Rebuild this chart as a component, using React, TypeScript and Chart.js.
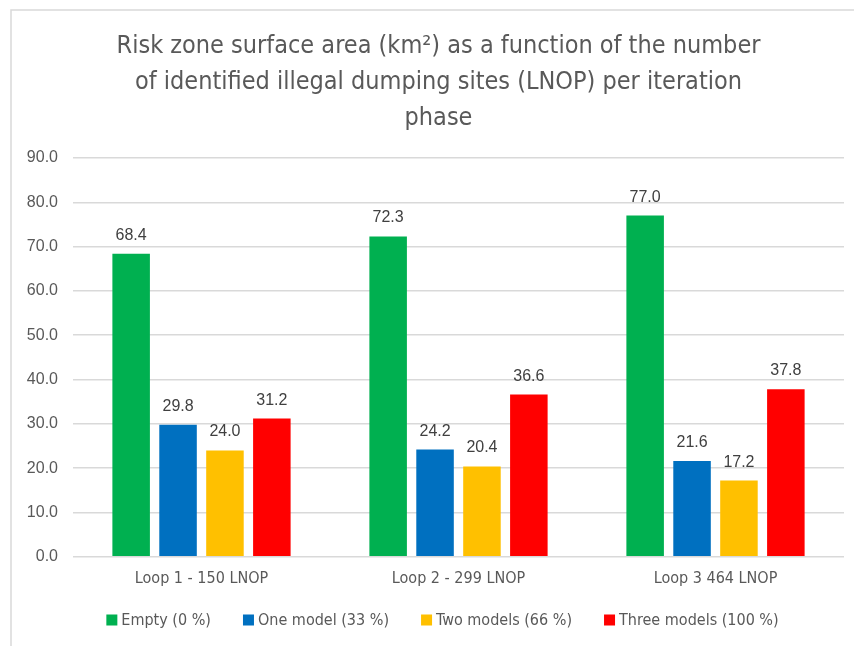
import React, { useEffect, useRef } from "react";
import { Chart, registerables } from "chart.js";

Chart.register(...registerables);

const categories = ["Loop 1 - 150 LNOP", "Loop 2 - 299 LNOP", "Loop 3 464 LNOP"];
const seriesNames = ["Empty (0 %)", "One model (33 %)", "Two models (66 %)", "Three models (100 %)"];
const emptyValues = [68.4, 72.3, 77.0];
const oneModelValues = [29.8, 24.2, 21.6];
const twoModelsValues = [24.0, 20.4, 17.2];
const threeModelsValues = [31.2, 36.6, 37.8];
const seriesColors = ["#00B050", "#0070C0", "#FFC000", "#FF0000"];
const titleLines = [
  "Risk zone surface area (km²) as a function of the number",
  "of identified illegal dumping sites (LNOP) per iteration",
  "phase",
];
const yMin = 0;
const yMax = 90;
const yStep = 10;

const NARROW = "'Liberation Sans Narrow', 'DejaVu Sans Condensed', 'Noto Sans', sans-serif";
const ARIAL = "'Liberation Sans', Arial, sans-serif";

const framePlugin = {
  id: "frame",
  beforeDraw(chart: any) {
    const ctx = chart.ctx;
    ctx.save();
    ctx.fillStyle = "#ffffff";
    ctx.fillRect(0, 0, chart.width, chart.height);
    ctx.strokeStyle = "#d9d9d9";
    ctx.lineWidth = 1.5;
    ctx.strokeRect(11, 10, chart.width + 50, chart.height + 50);
    ctx.restore();
  },
};

const titlePlugin = {
  id: "customTitle",
  afterDraw(chart: any) {
    const ctx = chart.ctx;
    ctx.save();
    ctx.font = `25px ${NARROW}`;
    ctx.fillStyle = "#595959";
    ctx.textAlign = "center";
    ctx.textBaseline = "middle";
    const cx = (chart.chartArea.left + chart.chartArea.right) / 2 - 20;
    titleLines.forEach((line, i) => {
      ctx.fillText(line, cx, 46 + i * 36);
    });
    ctx.restore();
  },
};

const valueLabelPlugin = {
  id: "valueLabels",
  afterDatasetsDraw(chart: any) {
    const ctx = chart.ctx;
    ctx.save();
    ctx.font = `16px ${ARIAL}`;
    ctx.fillStyle = "#404040";
    ctx.textAlign = "center";
    ctx.textBaseline = "alphabetic";
    chart.data.datasets.forEach((ds: any, i: number) => {
      const meta = chart.getDatasetMeta(i);
      meta.data.forEach((bar: any, j: number) => {
        ctx.fillText(Number(ds.data[j]).toFixed(1), bar.x, bar.y - 14);
      });
    });
    ctx.restore();
  },
};

const customLegendPlugin = {
  id: "customLegend",
  afterDraw(chart: any) {
    const ctx = chart.ctx;
    const box = 11;
    const textGap = 4;
    const itemGap = 32;
    ctx.save();
    ctx.font = `16px ${NARROW}`;
    ctx.textBaseline = "middle";
    ctx.textAlign = "left";
    const items = chart.data.datasets.map((ds: any) => ({
      text: ds.label,
      color: ds.backgroundColor,
      w: box + textGap + ctx.measureText(ds.label).width,
    }));
    const total = items.reduce((s: number, it: any) => s + it.w, 0) + itemGap * (items.length - 1);
    const centerX = (chart.chartArea.left + chart.chartArea.right) / 2 - 16;
    const cy = chart.height - 26;
    let x = centerX - total / 2;
    items.forEach((it: any) => {
      ctx.fillStyle = it.color;
      ctx.fillRect(x, cy - box / 2, box, box);
      ctx.fillStyle = "#595959";
      ctx.fillText(it.text, x + box + textGap, cy + 1);
      x += it.w + itemGap;
    });
    ctx.restore();
  },
};

export default function App() {
  const canvasRef = useRef<HTMLCanvasElement | null>(null);

  useEffect(() => {
    if (!canvasRef.current) return;
    const allValues = [emptyValues, oneModelValues, twoModelsValues, threeModelsValues];
    const chart = new Chart(canvasRef.current, {
      type: "bar",
      data: {
        labels: categories,
        datasets: seriesNames.map((name, i) => ({
          label: name,
          data: allValues[i],
          backgroundColor: seriesColors[i],
          borderWidth: 0,
          barPercentage: 0.8,
          categoryPercentage: 0.73,
        })),
      },
      options: {
        responsive: false,
        animation: false,
        layout: { padding: { left: 0, right: 10, top: 158, bottom: 46 } },
        plugins: {
          title: { display: false },
          legend: { display: false },
          tooltip: { enabled: false },
        },
        scales: {
          x: {
            grid: { display: false, drawTicks: false },
            border: { display: false },
            ticks: { color: "#595959", font: { family: NARROW, size: 16 }, padding: 12 },
          },
          y: {
            min: yMin,
            max: yMax,
            afterFit(scale: any) {
              scale.width = 73;
            },
            ticks: {
              stepSize: yStep,
              color: "#595959",
              font: { family: ARIAL, size: 16 },
              padding: 15,
              callback: (v: any) => Number(v).toFixed(1),
            },
            grid: { color: "#d9d9d9", lineWidth: 1.5, drawTicks: false },
            border: { display: false },
          },
        },
      },
      plugins: [framePlugin, titlePlugin, valueLabelPlugin, customLegendPlugin],
    } as any);
    return () => chart.destroy();
  }, []);

  return (
    <div style={{ position: "absolute", left: 0, top: 0, width: 854, height: 646 }}>
      <canvas ref={canvasRef} width={854} height={646} style={{ display: "block" }} />
    </div>
  );
}
